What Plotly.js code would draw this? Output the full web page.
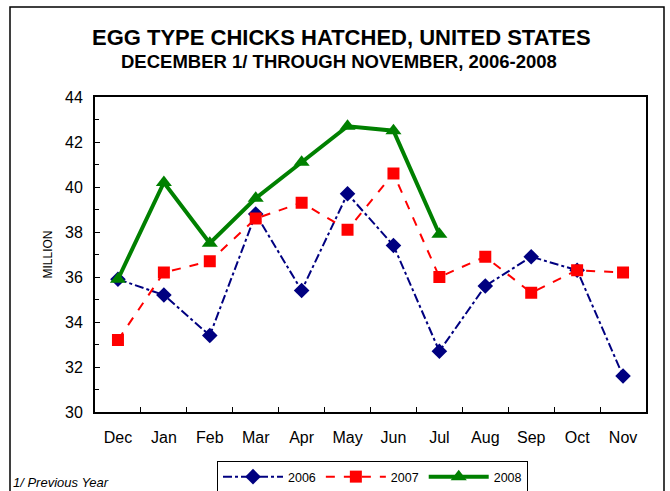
<!DOCTYPE html>
<html>
<head>
<meta charset="utf-8">
<script src="https://cdn.plot.ly/plotly-3.0.1.min.js"></script>
<style>
html,body{margin:0;padding:0;background:#fff;}
#chart{width:670px;height:491px;}
</style>
</head>
<body>
<div id="chart"></div>
<script>
const months = ["Dec","Jan","Feb","Mar","Apr","May","Jun","Jul","Aug","Sep","Oct","Nov"];
const y2006 = [35.9, 35.2, 33.4, 38.8, 35.4, 39.7, 37.4, 32.7, 35.6, 36.9, 36.3, 31.6];
const y2007 = [33.2, 36.2, 36.7, 38.6, 39.3, 38.1, 40.6, 36.0, 36.9, 35.3, 36.3, 36.2];
const y2008 = [35.9, 40.2, 37.5, 39.5, 41.1, 42.7, 42.5, 37.9];
const seriesNames = ["2006","2007","2008"];
const yTicks = [30,32,34,36,38,40,42,44];

const font = "Liberation Sans, Arial, sans-serif";

const traces = [
  {x: months, y: y2006, name: seriesNames[0], type: "scatter", mode: "lines+markers",
   line: {color: "#000080", width: 2, dash: "dashdot"},
   marker: {symbol: "diamond", size: 12, color: "#000080"}},
  {x: months.slice(0, y2007.length), y: y2007, name: seriesNames[1], type: "scatter", mode: "lines+markers",
   line: {color: "#ff0000", width: 2, dash: "dash"},
   marker: {symbol: "square", size: 12, color: "#ff0000"}},
  {x: months.slice(0, y2008.length), y: y2008, name: seriesNames[2], type: "scatter", mode: "lines+markers",
   line: {color: "#008000", width: 4},
   marker: {symbol: "triangle-up", size: 14, color: "#008000"}}
];

const L = 95, R = 24, T = 97, B = 79;
const W = 670 - L - R, H = 491 - T - B;
const px = v => (v - L) / W;
const py = v => (491 - B - v) / H;

const layout = {
  width: 670, height: 491,
  margin: {l: L, r: R, t: T, b: B, pad: 0, autoexpand: false},
  paper_bgcolor: "#fff", plot_bgcolor: "#fff",
  font: {family: font, color: "#000", size: 15},
  showlegend: true,
  legend: {orientation: "h", xref: "container", yref: "container",
    x: 217 / 670, y: 1 - 461 / 491, xanchor: "left", yanchor: "top",
    bordercolor: "#000", borderwidth: 1, bgcolor: "#fff",
    font: {family: font, size: 12.5}, itemwidth: 60, tracegroupgap: 0},
  xaxis: {type: "category", categoryorder: "array", categoryarray: months,
    range: [-0.5, 11.5], showline: true, linecolor: "#000", linewidth: 2, mirror: true,
    ticks: "inside", ticklen: 5, tickcolor: "#000", tickson: "boundaries",
    ticklabelstandoff: 10, automargin: false,
    showgrid: false, zeroline: false, tickfont: {family: font, size: 16}},
  yaxis: {range: [30, 44], tickvals: yTicks, ticktext: yTicks.map(String),
    showline: true, linecolor: "#000", linewidth: 2, mirror: true,
    ticks: "inside", ticklen: 5, tickcolor: "#000", ticklabelstandoff: 7, automargin: false,
    minor: {dtick: 1, ticks: "inside", ticklen: 4, tickcolor: "#000", showgrid: false},
    showgrid: false, zeroline: false, tickfont: {family: font, size: 16},
    title: {text: "MILLION", font: {family: font, size: 12}, standoff: 10}},
  annotations: [
    {text: "<b>EGG TYPE CHICKS HATCHED, UNITED STATES</b>", xref: "paper", yref: "paper",
     x: px(341), y: py(37), xanchor: "center", yanchor: "middle", showarrow: false,
     font: {family: font, size: 22}},
    {text: "<b>DECEMBER 1/ THROUGH NOVEMBER, 2006-2008</b>", xref: "paper", yref: "paper",
     x: px(339), y: py(62), xanchor: "center", yanchor: "middle", showarrow: false,
     font: {family: font, size: 18.5}},
    {text: "<i>1/ Previous Year</i>", xref: "paper", yref: "paper",
     x: px(11), y: py(482), xanchor: "left", yanchor: "middle", showarrow: false,
     font: {family: font, size: 13}}
  ],
  shapes: [
    {type: "rect", xref: "paper", yref: "paper", x0: px(10), x1: px(664), y0: py(500), y1: py(7),
     line: {color: "#000", width: 1.5}, fillcolor: "rgba(0,0,0,0)", layer: "below"}
  ]
};

Plotly.newPlot("chart", traces, layout, {staticPlot: true, displayModeBar: false});
</script>
</body>
</html>
